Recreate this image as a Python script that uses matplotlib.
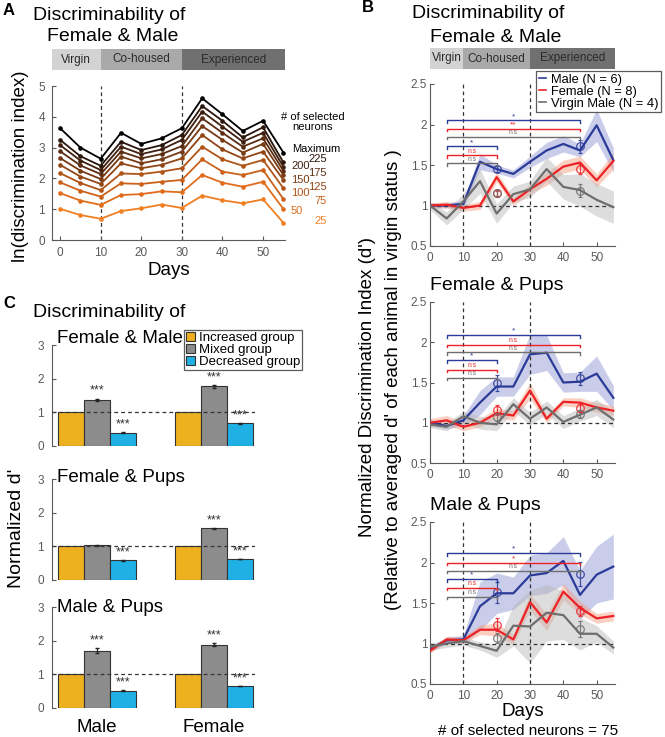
import matplotlib
matplotlib.use("Agg")
import matplotlib.pyplot as plt
from matplotlib.lines import Line2D
from matplotlib.patches import Patch
from matplotlib.ticker import FuncFormatter
import numpy as np

plt.rcParams["font.family"] = ["Liberation Sans", "DejaVu Sans"]

W, H = 665, 737

# ---- shared ----
days = [0, 5, 10, 15, 20, 25, 30, 35, 40, 45, 50, 55]
phase_names = ["Virgin", "Co-housed", "Experienced"]
phase_bounds = [10, 30]
phase_colors = ["#d3d3d3", "#a9a9a9", "#707070"]

# ---- panel A: ln(discrimination index) per number of selected neurons ----
neuron_labels = ["Maximum", "225", "200", "175", "150", "125", "100", "75", "50", "25"]
a_max = [3.63, 3.00, 2.64, 3.48, 3.12, 3.30, 3.63, 4.60, 4.08, 3.54, 3.87, 2.84]
a_225 = [3.25, 2.72, 2.41, 3.19, 2.92, 3.08, 3.41, 4.35, 3.87, 3.33, 3.66, 2.52]
a_200 = [3.08, 2.58, 2.27, 3.03, 2.79, 2.94, 3.25, 4.17, 3.68, 3.19, 3.48, 2.38]
a_175 = [2.88, 2.42, 2.14, 2.87, 2.65, 2.79, 3.05, 3.95, 3.48, 3.03, 3.30, 2.25]
a_150 = [2.66, 2.25, 1.98, 2.71, 2.49, 2.62, 2.87, 3.70, 3.25, 2.84, 3.12, 2.11]
a_125 = [2.44, 2.06, 1.82, 2.49, 2.33, 2.44, 2.65, 3.41, 2.94, 2.65, 2.87, 1.95]
a_100 = [2.17, 1.85, 1.62, 2.16, 2.14, 2.22, 2.33, 3.03, 2.62, 2.41, 2.60, 1.68]
a_75 = [1.87, 1.60, 1.41, 1.84, 1.82, 1.89, 1.95, 2.62, 2.22, 2.11, 2.27, 1.33]
a_50 = [1.52, 1.28, 1.14, 1.46, 1.49, 1.58, 1.55, 2.11, 1.86, 1.73, 1.89, 1.01]
a_25 = [1.01, 0.81, 0.69, 0.94, 1.03, 1.15, 1.04, 1.44, 1.29, 1.19, 1.32, 0.56]
a_series = [a_max, a_225, a_200, a_175, a_150, a_125, a_100, a_75, a_50, a_25]
a_colors = ["#000000", "#2a160c", "#3f2010", "#5a2d12", "#763a14",
            "#924616", "#b05418", "#cc611a", "#e06c1c", "#f07f22"]

# ---- panel B: normalized d' ----
b_titles = ["Female & Male", "Female & Pups", "Male & Pups"]
b_groups = ["Male (N = 6)", "Female (N = 8)", "Virgin Male (N = 4)"]
b_colors = ["#2b3b98", "#ec2227", "#6e6e6e"]
b_fills = ["#8a92d2", "#f4977a", "#b4b4b4"]

fm_male = [1.00, 1.00, 1.02, 1.54, 1.45, 1.39, 1.54, 1.68, 1.76, 1.68, 1.99, 1.56]
fm_male_sem = [0.03, 0.03, 0.05, 0.10, 0.05, 0.05, 0.07, 0.10, 0.10, 0.08, 0.20, 0.15]
fm_female = [1.00, 1.01, 0.97, 1.00, 1.35, 1.05, 1.20, 1.33, 1.48, 1.53, 1.31, 1.55]
fm_female_sem = [0.03, 0.04, 0.04, 0.05, 0.06, 0.05, 0.06, 0.08, 0.08, 0.08, 0.08, 0.10]
fm_virgin = [1.00, 0.84, 1.05, 1.30, 0.90, 1.14, 1.20, 1.45, 1.23, 1.19, 1.07, 0.98]
fm_virgin_sem = [0.05, 0.08, 0.10, 0.15, 0.12, 0.10, 0.10, 0.15, 0.15, 0.20, 0.20, 0.20]

fp_male = [1.00, 0.96, 1.03, 1.25, 1.45, 1.45, 1.85, 1.87, 1.50, 1.51, 1.61, 1.31]
fp_male_sem = [0.04, 0.04, 0.06, 0.15, 0.12, 0.12, 0.25, 0.22, 0.12, 0.12, 0.22, 0.15]
fp_female = [1.00, 1.03, 0.95, 1.00, 1.12, 1.09, 1.40, 1.05, 1.26, 1.25, 1.19, 1.15]
fp_female_sem = [0.05, 0.06, 0.05, 0.05, 0.06, 0.06, 0.10, 0.05, 0.05, 0.06, 0.06, 0.06]
fp_virgin = [0.98, 0.95, 1.08, 1.00, 0.98, 1.23, 1.05, 1.19, 1.01, 1.10, 1.19, 1.04]
fp_virgin_sem = [0.04, 0.05, 0.06, 0.08, 0.08, 0.08, 0.08, 0.08, 0.08, 0.08, 0.10, 0.10]

mp_male = [0.93, 1.04, 1.05, 1.46, 1.62, 1.62, 1.84, 1.87, 2.02, 1.60, 1.85, 1.95]
mp_male_sem = [0.03, 0.04, 0.05, 0.30, 0.25, 0.20, 0.25, 0.25, 0.30, 0.30, 0.35, 0.40]
mp_female = [0.91, 1.05, 1.04, 1.17, 1.17, 1.05, 1.51, 1.26, 1.64, 1.44, 1.31, 1.34]
mp_female_sem = [0.03, 0.04, 0.04, 0.06, 0.08, 0.06, 0.10, 0.10, 0.10, 0.08, 0.06, 0.06]
mp_virgin = [0.96, 1.00, 1.03, 0.97, 0.91, 1.22, 1.21, 1.38, 1.35, 1.12, 1.12, 0.95]
mp_virgin_sem = [0.04, 0.05, 0.05, 0.05, 0.08, 0.25, 0.45, 0.35, 0.30, 0.20, 0.10, 0.08]

b_lines = [
    [(fm_male, fm_male_sem), (fm_female, fm_female_sem), (fm_virgin, fm_virgin_sem)],
    [(fp_male, fp_male_sem), (fp_female, fp_female_sem), (fp_virgin, fp_virgin_sem)],
    [(mp_male, mp_male_sem), (mp_female, mp_female_sem), (mp_virgin, mp_virgin_sem)],
]

# mean +- sem at the two comparison days
cmp_days = [20, 45]
fm_points = [([1.45, 1.73], [0.04, 0.08]), ([1.15, 1.45], [0.03, 0.06]), ([1.15, 1.18], [0.04, 0.08])]
fp_points = [([1.49, 1.55], [0.10, 0.08]), ([1.16, 1.18], [0.06, 0.05]), ([1.07, 1.11], [0.05, 0.05])]
mp_points = [([1.63, 1.86], [0.13, 0.15]), ([1.23, 1.40], [0.08, 0.06]), ([1.07, 1.18], [0.06, 0.10])]
b_points = [fm_points, fp_points, mp_points]

# significance brackets: day 5 vs day 45 (long) and day 5 vs day 20 (short)
fm_long_y = [2.05, 1.95, 1.85]
fm_long_sig = ["*", "**", "n.s"]
fm_short_y = [1.73, 1.62, 1.52]
fm_short_sig = ["*", "n.s", "n.s"]
fp_long_y = [2.09, 1.97, 1.88]
fp_long_sig = ["*", "n.s", "n.s"]
fp_short_y = [1.78, 1.66, 1.56]
fp_short_sig = ["*", "n.s", "n.s"]
mp_long_y = [2.12, 2.00, 1.90]
mp_long_sig = ["*", "*", "n.s"]
mp_short_y = [1.80, 1.69, 1.58]
mp_short_sig = ["*", "n.s", "n.s"]
b_brackets = [
    (fm_long_y, fm_long_sig, fm_short_y, fm_short_sig),
    (fp_long_y, fp_long_sig, fp_short_y, fp_short_sig),
    (mp_long_y, mp_long_sig, mp_short_y, mp_short_sig),
]

# ---- panel C: normalized d' per neuron group ----
c_titles = ["Female & Male", "Female & Pups", "Male & Pups"]
c_sexes = ["Male", "Female"]
c_group_names = ["Increased group", "Mixed group", "Decreased group"]
c_colors = ["#edb120", "#8c8c8c", "#1fb0e6"]
fm_increased = [1.0, 1.0]
fm_mixed = [1.38, 1.77]
fm_mixed_err = [0.03, 0.04]
fm_decreased = [0.40, 0.67]
fm_decreased_err = [0.01, 0.02]
fm_stars = [["***", "***"], ["***", "***"]]
fp_increased = [1.0, 1.0]
fp_mixed = [1.03, 1.53]
fp_mixed_err = [0.01, 0.02]
fp_decreased = [0.58, 0.62]
fp_decreased_err = [0.01, 0.01]
fp_stars = [["", "***"], ["***", "***"]]
mp_increased = [1.0, 1.0]
mp_mixed = [1.70, 1.88]
mp_mixed_err = [0.07, 0.04]
mp_decreased = [0.51, 0.65]
mp_decreased_err = [0.01, 0.01]
mp_stars = [["***", "***"], ["***", "***"]]
c_data = [
    (fm_increased, fm_mixed, fm_mixed_err, fm_decreased, fm_decreased_err, fm_stars),
    (fp_increased, fp_mixed, fp_mixed_err, fp_decreased, fp_decreased_err, fp_stars),
    (mp_increased, mp_mixed, mp_mixed_err, mp_decreased, mp_decreased_err, mp_stars),
]

AX_COLOR = "#5a5a5a"


def px_axes(fig, left, top, right, bottom):
    return fig.add_axes([left / W, 1 - bottom / H, (right - left) / W, (bottom - top) / H])


def ftext(fig, x, y, s, **kw):
    return fig.text(x / W, 1 - y / H, s, **kw)


def style_axes(ax, fs=8.5):
    for side in ["top", "right"]:
        ax.spines[side].set_visible(False)
    for side in ["left", "bottom"]:
        ax.spines[side].set_color(AX_COLOR)
        ax.spines[side].set_linewidth(0.8)
    ax.tick_params(direction="in", length=3, width=0.8, colors=AX_COLOR,
                   labelsize=fs, labelcolor=AX_COLOR)
    ax.yaxis.set_major_formatter(FuncFormatter(lambda v, p: f"{v:g}"))


def draw_phases(ax, xlim, fs):
    edges = [xlim[0]] + phase_bounds + [xlim[1]]
    for i, name in enumerate(phase_names):
        ax.axvspan(edges[i], edges[i + 1], color=phase_colors[i], lw=0)
        ax.text((edges[i] + edges[i + 1]) / 2, 0.5, name, ha="center", va="center",
                fontsize=fs, color="#2a2a2a")
    ax.set_xlim(xlim)
    ax.set_ylim(0, 1)
    ax.axis("off")


fig = plt.figure(figsize=(W / 100, H / 100), dpi=100)

# ================= Panel A =================
ftext(fig, 3, 15, "A", fontsize=12, fontweight="bold", va="baseline")
ftext(fig, 33, 20, "Discriminability of", fontsize=14, va="baseline")
ftext(fig, 47, 41, "Female & Male", fontsize=14, va="baseline")

a_xlim = (-2, 55.4)
draw_phases(px_axes(fig, 52, 49, 285, 70), a_xlim, 8.5)

axA = px_axes(fig, 52, 86, 285, 240)
for vals, col in zip(a_series, a_colors):
    axA.plot(days, vals, color=col, lw=1.3, marker="o", ms=2.3, zorder=3)
for d in phase_bounds:
    axA.axvline(d, color="#333333", lw=0.9, ls=(0, (3, 2.5)), zorder=1)
axA.set_xlim(a_xlim)
axA.set_ylim(0, 5)
axA.set_xticks([0, 10, 20, 30, 40, 50])
axA.set_yticks([0, 1, 2, 3, 4, 5])
style_axes(axA)
axA.tick_params(axis="x", pad=5)
axA.tick_params(axis="y", pad=5)
axA.set_xlabel("Days", fontsize=13.5, labelpad=2)
ftext(fig, 21, 166, "ln(discrimination index)", fontsize=13.5, rotation=90,
      ha="center", va="center")

ftext(fig, 313, 122, "# of selected\nneurons", fontsize=8, ha="center", va="center",
      linespacing=0.95)
a_label_pos = [(292, 149, "left"), (327, 159, "right"), (291, 166, "left"),
               (327, 173, "right"), (291, 180, "left"), (327, 187, "right"),
               (291, 193, "left"), (327, 201, "right"), (291, 211, "left"),
               (327, 221, "right")]
for lab, col, (x, y, ha) in zip(neuron_labels, a_colors, a_label_pos):
    ftext(fig, x, y, lab, fontsize=8, color=col, ha=ha, va="center")

# ================= Panel B =================
ftext(fig, 362, 12, "B", fontsize=12, fontweight="bold", va="baseline")
ftext(fig, 412, 18, "Discriminability of", fontsize=14, va="baseline")
ftext(fig, 430, 42, "Female & Male", fontsize=14, va="baseline")

b_xlim = (0, 55.5)
draw_phases(px_axes(fig, 430, 48, 615, 69), b_xlim, 8.5)

b_boxes = [(84, 246), (302, 463), (522, 684)]
b_title_base = [None, 290, 510]
b_axes = []
for k, (top, bottom) in enumerate(b_boxes):
    ax = px_axes(fig, 430, top, 615, bottom)
    b_axes.append(ax)
    for (vals, sem), col, fcol in zip(b_lines[k], b_colors, b_fills):
        v = np.array(vals)
        s = np.array(sem)
        ax.fill_between(days, v - s, v + s, color=fcol, alpha=0.45, lw=0, zorder=1)
    for (vals, sem), col in zip(b_lines[k], b_colors):
        ax.plot(days, vals, color=col, lw=1.6, zorder=3)
    for (pm, pe), col in zip(b_points[k], b_colors):
        ax.errorbar(cmp_days, pm, yerr=pe, fmt="o", mfc="none", mec=col, ecolor=col,
                    ms=5.5, mew=0.9, elinewidth=0.9, capsize=1.5, alpha=0.85, zorder=4)
    long_y, long_sig, short_y, short_sig = b_brackets[k]
    for ys, sigs, (d0, d1) in [(long_y, long_sig, (5, 45)), (short_y, short_sig, (5, 20))]:
        for y, sig, col in zip(ys, sigs, b_colors):
            ax.plot([d0, d0, d1, d1], [y - 0.035, y, y, y - 0.035], color=col, lw=1.0, zorder=5)
            fs = 4.8 if sig == "n.s" else 6
            ax.text((d0 + d1) / 2, y + 0.005, sig, color=col, fontsize=fs,
                    ha="center", va="bottom", zorder=5)
    for d in phase_bounds:
        ax.axvline(d, color="#333333", lw=0.9, ls=(0, (3, 2.5)), zorder=2)
    ax.axhline(1, color="#333333", lw=0.9, ls=(0, (3, 2.5)), zorder=2)
    ax.set_xlim(b_xlim)
    ax.set_ylim(0.5, 2.5)
    ax.set_xticks([0, 10, 20, 30, 40, 50])
    ax.set_yticks([0.5, 1, 1.5, 2, 2.5])
    style_axes(ax)
    ax.tick_params(axis="x", pad=4)
    ax.tick_params(axis="y", pad=2)
    if b_title_base[k] is not None:
        ftext(fig, 430, b_title_base[k], b_titles[k], fontsize=14, va="baseline")

b_axes[-1].set_xlabel("Days", fontsize=13.5, labelpad=1)
ftext(fig, 528, 735, "# of selected neurons = 75", fontsize=11, ha="center", va="baseline")
ftext(fig, 367, 387, "Normalized Discrimination Index (d')", fontsize=13.5,
      rotation=90, ha="center", va="center")
ftext(fig, 393, 380, "(Relative to averaged d' of each animal in virgin status )",
      fontsize=13.5, rotation=90, ha="center", va="center")

b_handles = [Line2D([], [], color=c, lw=1.2) for c in b_colors]
b_axes[0].legend(b_handles, b_groups, loc="upper left",
                 bbox_to_anchor=(536 / W, 1 - 71 / H), bbox_transform=fig.transFigure,
                 fontsize=9.3, frameon=True, fancybox=False, edgecolor="#333333",
                 handlelength=0.6, handletextpad=0.35, labelspacing=0.0,
                 borderpad=0.2, borderaxespad=0).get_frame().set_linewidth(0.9)

# ================= Panel C =================
ftext(fig, 3, 308, "C", fontsize=12, fontweight="bold", va="baseline")
ftext(fig, 33, 317, "Discriminability of", fontsize=14, va="baseline")

c_boxes = [(345, 446), (479, 580), (607, 708)]
c_title_base = [343, 482, 612]
bw = 0.222
x = np.array([1, 2])
c_axes = []
for k, (top, bottom) in enumerate(c_boxes):
    ax = px_axes(fig, 52, top, 255, bottom)
    c_axes.append(ax)
    inc, mix, mix_err, dec, dec_err, stars = c_data[k]
    ax.bar(x - bw, inc, bw, color=c_colors[0], edgecolor="#333333", lw=0.8, zorder=2)
    ax.bar(x, mix, bw, yerr=mix_err, color=c_colors[1], edgecolor="#333333", lw=0.8,
           error_kw=dict(elinewidth=0.9, capsize=1.2, ecolor="#222222"), zorder=2)
    ax.bar(x + bw, dec, bw, yerr=dec_err, color=c_colors[2], edgecolor="#333333", lw=0.8,
           error_kw=dict(elinewidth=0.9, capsize=1.2, ecolor="#222222"), zorder=2)
    for i in range(2):
        if stars[0][i]:
            ax.text(x[i], mix[i] + mix_err[i] + 0.05, stars[0][i], ha="center",
                    va="bottom", fontsize=9, color="#333333")
        if stars[1][i]:
            ax.text(x[i] + bw, dec[i] + dec_err[i] + 0.05, stars[1][i], ha="center",
                    va="bottom", fontsize=9, color="#333333")
    ax.axhline(1, color="#333333", lw=0.9, ls=(0, (3, 2.5)), zorder=3)
    ax.set_xlim(0.615, 2.35)
    ax.set_ylim(0, 3)
    ax.set_yticks([0, 1, 2, 3])
    style_axes(ax)
    ax.spines["bottom"].set_visible(False)
    ax.tick_params(axis="y", pad=6)
    ax.set_xticks([])
    ftext(fig, 57, c_title_base[k], c_titles[k], fontsize=13.5, va="baseline")

c_axes[-1].set_xticks(x)
c_axes[-1].set_xticklabels(c_sexes, fontsize=13.5, color="black")
c_axes[-1].tick_params(axis="x", length=0, pad=8, labelcolor="black")
ftext(fig, 17, 528, "Normalized d'", fontsize=14, rotation=90, ha="center", va="center")

c_handles = [Patch(facecolor=c, edgecolor="#333333", lw=0.8) for c in c_colors]
c_axes[0].legend(c_handles, c_group_names, loc="upper left",
                 bbox_to_anchor=(184 / W, 1 - 330 / H), bbox_transform=fig.transFigure,
                 fontsize=9.5, frameon=True, fancybox=False, edgecolor="#333333",
                 handlelength=0.65, handleheight=0.65, handletextpad=0.35,
                 labelspacing=0.0, borderpad=0.15,
                 borderaxespad=0).get_frame().set_linewidth(0.9)

fig.savefig("out.png", dpi=100)
